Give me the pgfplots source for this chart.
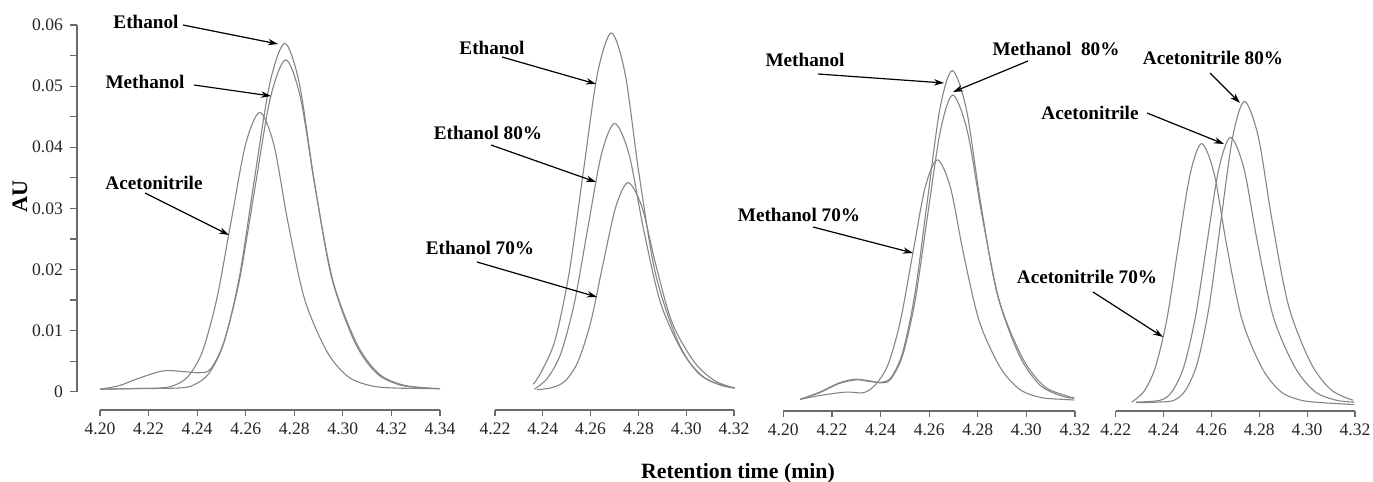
\documentclass[border=0pt]{standalone}
\usepackage{fontspec}
\setmainfont{Liberation Serif}
\usepackage{pgfplots}
\pgfplotsset{compat=1.18}
\usetikzlibrary{arrows.meta}

\definecolor{curvec}{gray}{0.52}
\definecolor{axisc}{gray}{0.42}

\pgfplotsset{
  cv/.style={curvec, line width=0.55pt, smooth, mark=none},
  panel/.style={
    scale only axis, clip=false, anchor=south west,
    axis x line*=bottom, axis y line=none, ytick=\empty,
    axis line style={axisc, line width=0.6pt, -},
    tick style={axisc, line width=0.6pt},
    tick align=outside, major tick length=3pt,
    xtick pos=bottom,
    xticklabel style={font=\fontsize{8.8}{10}\selectfont, text=black!85},
  }
}

\begin{document}
\begin{tikzpicture}
\path[use as bounding box] (0pt,0pt) rectangle (686.5pt,-241pt);

% ---------- y axis of panel 1 ----------
\begin{axis}[scale only axis, anchor=south west, at={(38.5pt,-195.85pt)},
  width=1pt, height=183.35pt, xmin=0, xmax=1, ymin=0, ymax=0.06,
  hide x axis, axis y line*=left, scaled y ticks=false,
  axis line style={axisc, line width=0.6pt, -},
  tick style={axisc, line width=0.6pt}, tick align=outside,
  major tick length=3.5pt, minor tick length=3.5pt,
  ytick={0,0.01,0.02,0.03,0.04,0.05,0.06},
  yticklabels={0,0.01,0.02,0.03,0.04,0.05,0.06},
  minor ytick={0.005,0.015,0.025,0.035,0.045,0.055},
  yticklabel style={font=\fontsize{8.8}{10}\selectfont, text=black!85}]
\addplot[draw=none] coordinates {(0,0) (1,0.06)};
\end{axis}

% ---------- panel 1 ----------
\begin{axis}[panel, at={(50pt,-205pt)}, width=170pt, height=192.5pt,
  xmin=4.20, xmax=4.34, ymin=-0.003, ymax=0.06,
  xtick={4.20,4.22,4.24,4.26,4.28,4.30,4.32,4.34},
  xticklabels={4.20,4.22,4.24,4.26,4.28,4.30,4.32,4.34}]
% Ethanol
\addplot[cv] coordinates {(4.200,0.0004) (4.215,0.0005) (4.2324,0.0006) (4.2386,0.0011) (4.2449,0.0030) (4.2511,0.0081) (4.2574,0.0188) (4.2636,0.0348) (4.2699,0.0504) (4.2761,0.0570) (4.2821,0.0504) (4.2881,0.0348) (4.2953,0.0188) (4.3049,0.0081) (4.3139,0.0030) (4.3235,0.0011) (4.3337,0.0006) (4.340,0.0005)};
% Methanol
\addplot[cv] coordinates {(4.200,0.0004) (4.208,0.0010) (4.216,0.0022) (4.226,0.0034) (4.234,0.0033) (4.241,0.0031) (4.2455,0.0037) (4.2509,0.0080) (4.2573,0.0180) (4.2637,0.0331) (4.2701,0.0480) (4.2765,0.0543) (4.2826,0.0480) (4.2887,0.0331) (4.2960,0.0180) (4.3058,0.0078) (4.3149,0.0029) (4.3247,0.0011) (4.3351,0.0006) (4.340,0.0005)};
% Acetonitrile
\addplot[cv] coordinates {(4.200,0.0004) (4.212,0.0005) (4.2245,0.0006) (4.2304,0.0010) (4.2363,0.0025) (4.2422,0.0066) (4.2481,0.0152) (4.2540,0.0279) (4.2599,0.0404) (4.2658,0.0457) (4.2716,0.0404) (4.2773,0.0279) (4.2842,0.0152) (4.2934,0.0066) (4.3020,0.0025) (4.3112,0.0010) (4.3210,0.0006) (4.340,0.0005)};
\end{axis}

% ---------- panel 2 ----------
\begin{axis}[panel, at={(247.5pt,-205pt)}, width=119.5pt, height=192.5pt,
  xmin=4.22, xmax=4.32, ymin=-0.003, ymax=0.06,
  xtick={4.22,4.24,4.26,4.28,4.30,4.32},
  xticklabels={4.22,4.24,4.26,4.28,4.30,4.32}]
% Ethanol
\addplot[cv] coordinates {(4.2360,0.0012) (4.2392,0.0031) (4.2451,0.0084) (4.2510,0.0194) (4.2569,0.0358) (4.2628,0.0519) (4.2687,0.0587) (4.2745,0.0519) (4.2802,0.0358) (4.2871,0.0194) (4.2963,0.0084) (4.3049,0.0031) (4.3141,0.0011) (4.3203,0.0006)};
% Ethanol 80%
\addplot[cv] coordinates {(4.2365,0.0004) (4.2419,0.0022) (4.2475,0.0062) (4.2532,0.0145) (4.2588,0.0267) (4.2645,0.0388) (4.2701,0.0439) (4.2761,0.0388) (4.2821,0.0267) (4.2893,0.0145) (4.2989,0.0062) (4.3079,0.0022) (4.3175,0.0008) (4.3203,0.0006)};
% Ethanol 70%
\addplot[cv] coordinates {(4.2375,0.0003) (4.2442,0.0007) (4.2495,0.0018) (4.2547,0.0049) (4.2600,0.0113) (4.2652,0.0209) (4.2705,0.0302) (4.2757,0.0342) (4.2815,0.0302) (4.2872,0.0209) (4.2941,0.0113) (4.3033,0.0049) (4.3119,0.0018) (4.3203,0.0006)};
\end{axis}

% ---------- panel 3 ----------
\begin{axis}[panel, at={(391.65pt,-205.5pt)}, width=145.85pt, height=188.83pt,
  xmin=4.20, xmax=4.32, ymin=-0.0018, ymax=0.06,
  xtick={4.20,4.22,4.24,4.26,4.28,4.30,4.32},
  xticklabels={4.20,4.22,4.24,4.26,4.28,4.30,4.32}]
% Methanol
\addplot[cv] coordinates {(4.2069,0.0001) (4.215,0.0012) (4.223,0.0027) (4.2302,0.0033) (4.236,0.0030) (4.2405,0.0029) (4.2444,0.0037) (4.2491,0.0078) (4.2542,0.0175) (4.2593,0.0327) (4.2644,0.0476) (4.2695,0.0539) (4.2753,0.0476) (4.2810,0.0327) (4.2879,0.0175) (4.2971,0.0073) (4.3057,0.0024) (4.3149,0.0006) (4.3197,0.0003)};
% Methanol 80%
\addplot[cv] coordinates {(4.2069,0.0001) (4.215,0.0013) (4.223,0.0028) (4.2295,0.0034) (4.236,0.0031) (4.2405,0.0028) (4.2442,0.0034) (4.2491,0.0073) (4.2542,0.0162) (4.2594,0.0303) (4.2646,0.0440) (4.2697,0.0499) (4.2757,0.0440) (4.2817,0.0303) (4.2889,0.0162) (4.2985,0.0068) (4.3075,0.0022) (4.3171,0.0006) (4.3197,0.0004)};
% Methanol 70%
\addplot[cv] coordinates {(4.2069,0.0001) (4.216,0.0008) (4.226,0.0013) (4.233,0.0012) (4.2379,0.0025) (4.2430,0.0057) (4.2481,0.0128) (4.2532,0.0238) (4.2583,0.0347) (4.2634,0.0393) (4.2688,0.0347) (4.2742,0.0238) (4.2807,0.0128) (4.2893,0.0053) (4.2974,0.0017) (4.3061,0.0004) (4.3152,0.0001) (4.3197,0.0000)};
\end{axis}

% ---------- panel 4 ----------
\begin{axis}[panel, at={(557.85pt,-205.5pt)}, width=119.65pt, height=187.18pt,
  xmin=4.22, xmax=4.32, ymin=-0.00126, ymax=0.06,
  xtick={4.22,4.24,4.26,4.28,4.30,4.32},
  xticklabels={4.22,4.24,4.26,4.28,4.30,4.32}]
% Acetonitrile 70%
\addplot[cv] coordinates {(4.2267,0.0002) (4.2317,0.0019) (4.2365,0.0058) (4.2414,0.0138) (4.2462,0.0258) (4.2511,0.0375) (4.2559,0.0425) (4.2612,0.0375) (4.2664,0.0258) (4.2727,0.0138) (4.2811,0.0058) (4.2890,0.0019) (4.2974,0.0005) (4.3063,0.0001) (4.3197,-0.0002)};
% Acetonitrile
\addplot[cv] coordinates {(4.2285,0.0002) (4.2386,0.0005) (4.2435,0.0019) (4.2484,0.0059) (4.2533,0.0141) (4.2582,0.0264) (4.2631,0.0384) (4.2680,0.0435) (4.2736,0.0384) (4.2792,0.0264) (4.2859,0.0141) (4.2949,0.0059) (4.3033,0.0019) (4.3122,0.0005) (4.3197,0.0002)};
% Acetonitrile 80%
\addplot[cv] coordinates {(4.2285,0.0001) (4.2380,0.0002) (4.2444,0.0005) (4.2493,0.0022) (4.2542,0.0067) (4.2591,0.0160) (4.2640,0.0300) (4.2689,0.0436) (4.2738,0.0494) (4.2796,0.0436) (4.2853,0.0300) (4.2922,0.0160) (4.3014,0.0067) (4.3100,0.0022) (4.3192,0.0005)};
\end{axis}

% ---------- annotations ----------
\begin{scope}[x=0.5pt, y=-0.5pt, every node/.style={inner sep=0pt, font=\fontsize{9.6}{11}\selectfont\bfseries},
  arr/.style={black, line width=0.6pt, -{Stealth[length=5pt,width=3.2pt]}}]
\node at (146,22) {Ethanol};        \draw[arr] (183,25) -- (278,44);
\node at (145,82) {Methanol};       \draw[arr] (194,85) -- (271,96);
\node at (154,183) {Acetonitrile};  \draw[arr] (145,193) -- (229,235);
\node at (492,48) {Ethanol};        \draw[arr] (502,57) -- (596,84);
\node at (488,133) {Ethanol 80\%};  \draw[arr] (491,145) -- (596,182);
\node at (480,248) {Ethanol 70\%};  \draw[arr] (477,262) -- (597,297);
\node at (805,60) {Methanol};       \draw[arr] (818,74) -- (944,83);
\node at (1056,49) {Methanol\ \ 80\%}; \draw[arr] (1028,61) -- (953,92);
\node at (799,215) {Methanol 70\%}; \draw[arr] (813,227) -- (913,253);
\node at (1213,58) {Acetonitrile 80\%}; \draw[arr] (1210,73) -- (1240,103);
\node at (1090,113) {Acetonitrile}; \draw[arr] (1147,113) -- (1224,144);
\node at (1087,277) {Acetonitrile 70\%}; \draw[arr] (1093,292) -- (1163,337);
\node[rotate=90, font=\fontsize{11.1}{13}\selectfont\bfseries] at (20,196) {AU};
\node[font=\fontsize{10.9}{13}\selectfont\bfseries] at (738,473) {Retention time (min)};
\end{scope}
\end{tikzpicture}
\end{document}
